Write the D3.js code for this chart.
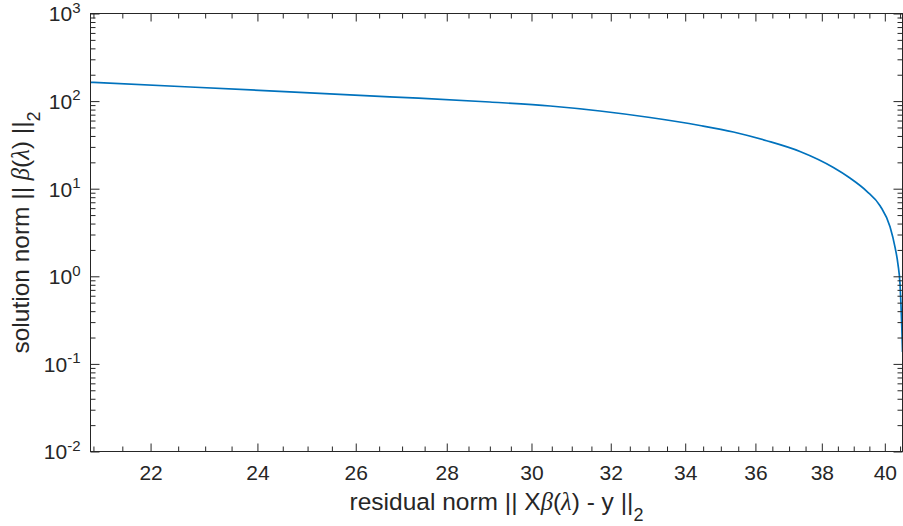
<!DOCTYPE html>
<html>
<head>
<meta charset="utf-8">
<script src="https://cdn.jsdelivr.net/npm/d3@7"></script>
<style>
  html, body { margin: 0; padding: 0; background: #fff; }
  svg { display: block; }
  text { font-family: "Liberation Sans", Arial, Helvetica, sans-serif; fill: #262626; }
</style>
</head>
<body>
<svg id="chart" width="903" height="526"></svg>
<script>
// L-curve: residual norm vs. solution norm (log-log)
const residualNorm = [20.95, 22.72, 24.64, 26.73, 29.00, 30.46, 31.72, 33.04, 34.41, 35.36, 36.33, 37.33, 38.36, 38.88, 39.41, 39.85, 40.17, 40.34, 40.43, 40.50, 40.53, 40.56, 40.58];
const solutionNorm = [163.9, 144.9, 127.7, 112.0, 97.6, 87.9, 77.1, 65.0, 52.7, 44.4, 35.3, 26.6, 17.46, 13.25, 9.41, 6.35, 3.68, 2.10, 1.38, 0.796, 0.470, 0.244, 0.137];

const xMajorTicks = [22, 24, 26, 28, 30, 32, 34, 36, 38, 40];
const xMinorTicks = [21, 21.5, 22.5, 23, 23.5, 24.5, 25, 25.5, 26.5, 27, 27.5, 28.5, 29, 29.5,
                     30.5, 31, 31.5, 32.5, 33, 33.5, 34.5, 35, 35.5, 36.5, 37, 37.5, 38.5, 39, 39.5, 40.5];
const yMajorExponents = [-2, -1, 0, 1, 2, 3];

const xDomain = [20.95, 40.58];
const yDomain = [1e-2, 1e3];

const box = { left: 90.5, right: 902.5, top: 13.5, bottom: 451.5 };
const axisColor = "#262626";
const tickFont = "21px";
const labelFont = "24.5px";

const svg = d3.select("#chart");

const x = d3.scaleLog().domain(xDomain).range([box.left, box.right]);
const y = d3.scaleLog().domain(yDomain).range([box.bottom, box.top]);

const yMinorTicks = [];
yMajorExponents.slice(0, -1).forEach(e => {
  for (let k = 2; k <= 9; k++) yMinorTicks.push(k * Math.pow(10, e));
});
const yMajorTicks = yMajorExponents.map(e => Math.pow(10, e));

// data line, clipped to the axes box (the right edge is left open so the
// near-vertical tail at the x limit keeps its full stroke)
svg.append("clipPath").attr("id", "plot-clip")
  .append("rect").attr("x", box.left).attr("y", box.top)
  .attr("width", box.right - box.left + 2).attr("height", box.bottom - box.top);

const line = d3.line()
  .x((d, i) => x(residualNorm[i]))
  .y((d, i) => y(solutionNorm[i]))
  .curve(d3.curveMonotoneX);

svg.append("path")
  .datum(solutionNorm)
  .attr("clip-path", "url(#plot-clip)")
  .attr("fill", "none")
  .attr("stroke", "#0072BD")
  .attr("stroke-width", 1.7)
  .attr("stroke-linejoin", "round")
  .attr("d", line);

function styleAxis(g) {
  g.select(".domain").remove();
  g.selectAll(".tick line").attr("stroke", axisColor).attr("stroke-width", 1);
}

// minor ticks on all four sides
svg.append("g").attr("transform", `translate(0,${box.bottom})`)
  .call(d3.axisBottom(x).tickValues(xMinorTicks).tickSize(-5).tickFormat(""))
  .call(styleAxis);
svg.append("g").attr("transform", `translate(0,${box.top})`)
  .call(d3.axisTop(x).tickValues(xMinorTicks).tickSize(-5).tickFormat(""))
  .call(styleAxis);
svg.append("g").attr("transform", `translate(${box.left},0)`)
  .call(d3.axisLeft(y).tickValues(yMinorTicks).tickSize(-5).tickFormat(""))
  .call(styleAxis);
svg.append("g").attr("transform", `translate(${box.right},0)`)
  .call(d3.axisRight(y).tickValues(yMinorTicks).tickSize(-5).tickFormat(""))
  .call(styleAxis);

// major ticks
const xAxis = svg.append("g").attr("transform", `translate(0,${box.bottom})`)
  .call(d3.axisBottom(x).tickValues(xMajorTicks).tickSize(-8).tickPadding(13.5).tickFormat(d3.format("d")))
  .call(styleAxis);
xAxis.selectAll(".tick text")
  .attr("font-size", tickFont).attr("fill", axisColor)
  .attr("font-family", "Liberation Sans, Arial, sans-serif");

svg.append("g").attr("transform", `translate(0,${box.top})`)
  .call(d3.axisTop(x).tickValues(xMajorTicks).tickSize(-8).tickFormat(""))
  .call(styleAxis);

const yAxis = svg.append("g").attr("transform", `translate(${box.left},0)`)
  .call(d3.axisLeft(y).tickValues(yMajorTicks).tickSize(-9).tickFormat(""))
  .call(styleAxis);
yAxis.selectAll(".tick text").remove();
yAxis.selectAll(".tick").each(function(d) {
  const e = Math.round(Math.log10(d));
  const t = d3.select(this).append("text")
    .attr("x", -10)
    .attr("y", 7.3)
    .attr("text-anchor", "end")
    .attr("font-size", tickFont)
    .attr("fill", axisColor);
  t.append("tspan").text("10");
  t.append("tspan").attr("dy", -8.5).attr("font-size", "15px").text(String(e));
});

svg.append("g").attr("transform", `translate(${box.right},0)`)
  .call(d3.axisRight(y).tickValues(yMajorTicks).tickSize(-9).tickFormat(""))
  .call(styleAxis);

// axes box
svg.append("rect")
  .attr("x", box.left).attr("y", box.top)
  .attr("width", box.right - box.left).attr("height", box.bottom - box.top)
  .attr("fill", "none").attr("stroke", axisColor).attr("stroke-width", 1);

// axis labels
function greek(t, s) {
  t.append("tspan").attr("font-family", "Liberation Serif, Times New Roman, serif")
    .attr("font-style", "italic").text(s);
}

const xl = svg.append("text")
  .attr("x", (box.left + box.right) / 2).attr("y", 510)
  .attr("text-anchor", "middle").attr("font-size", labelFont);
xl.append("tspan").text("residual norm || X");
greek(xl, "β");
xl.append("tspan").text("(");
greek(xl, "λ");
xl.append("tspan").text(") - y ||");
xl.append("tspan").attr("font-size", "18px").attr("dy", 11).text("2");

const yl = svg.append("text")
  .attr("transform", `translate(28.5,${(box.top + box.bottom) / 2}) rotate(-90)`)
  .attr("text-anchor", "middle").attr("font-size", labelFont);
yl.append("tspan").text("solution norm || ");
greek(yl, "β");
yl.append("tspan").text("(");
greek(yl, "λ");
yl.append("tspan").text(") ||");
yl.append("tspan").attr("font-size", "18px").attr("dy", 11).text("2");
</script>
</body>
</html>
